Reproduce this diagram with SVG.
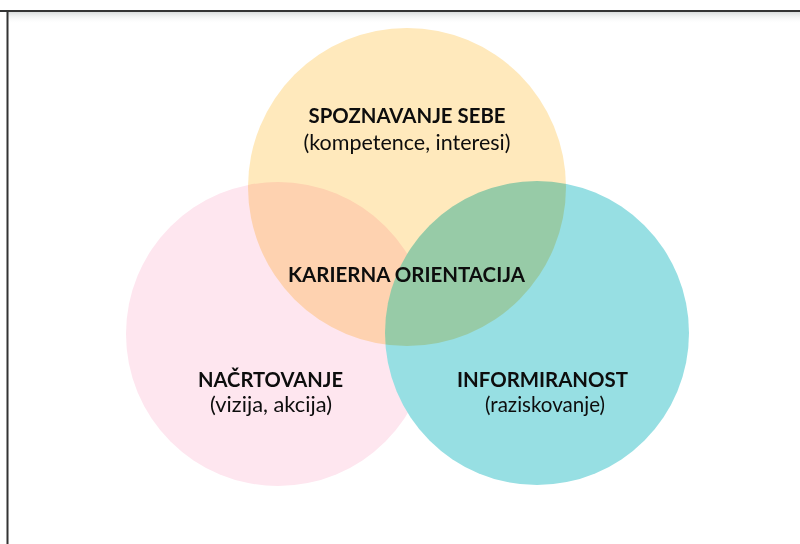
<svg xmlns="http://www.w3.org/2000/svg" width="800" height="544" viewBox="0 0 800 544">
  <defs>
    <linearGradient id="shadow" x1="0" y1="0" x2="0" y2="1">
      <stop offset="0" stop-color="#d9dcdc"/>
      <stop offset="1" stop-color="#ffffff" stop-opacity="0"/>
    </linearGradient>
    <style>
      .t { font-family: Lato, "Open Sans", "Liberation Sans", sans-serif; fill: #0d0d0d; text-anchor: middle; }
      .b { font-weight: 700; font-size: 21px; }
      .r { font-weight: 400; font-size: 21px; }
      .frame { stroke: #333; stroke-width: 2; fill: none; }
    </style>
  </defs>
  <rect x="0" y="0" width="800" height="544" fill="#ffffff"/>
  <rect x="8" y="12" width="792" height="12" fill="url(#shadow)"/>
  <g id="frame">
    <line class="frame" x1="0" y1="11" x2="800" y2="11"/>
    <line class="frame" x1="7.5" y1="10" x2="7.5" y2="544"/>
  </g>
  <g id="node-nacrtovanje">
    <circle cx="278" cy="334" r="152" fill="#fee6ef"/>
  </g>
  <g id="node-informiranost">
    <circle cx="537" cy="333" r="152" fill="#97dfe3"/>
  </g>
  <g id="node-spoznavanje">
    <circle cx="407" cy="187" r="159" fill="#ffe9bc" style="mix-blend-mode:multiply"/>
  </g>
  <g id="labels">
    <text class="t b" x="407" y="123" textLength="197" lengthAdjust="spacingAndGlyphs">SPOZNAVANJE SEBE</text>
    <text class="t r" x="407" y="150" textLength="207" lengthAdjust="spacingAndGlyphs">(kompetence, interesi)</text>
    <text class="t b" x="406.5" y="282" textLength="237" lengthAdjust="spacingAndGlyphs">KARIERNA ORIENTACIJA</text>
    <text class="t b" x="270.5" y="387" textLength="145" lengthAdjust="spacingAndGlyphs">NAČRTOVANJE</text>
    <text class="t r" x="271" y="412" textLength="122" lengthAdjust="spacingAndGlyphs">(vizija, akcija)</text>
    <text class="t b" x="542.5" y="387" textLength="171" lengthAdjust="spacingAndGlyphs">INFORMIRANOST</text>
    <text class="t r" x="545" y="412" textLength="120" lengthAdjust="spacingAndGlyphs">(raziskovanje)</text>
  </g>
</svg>
